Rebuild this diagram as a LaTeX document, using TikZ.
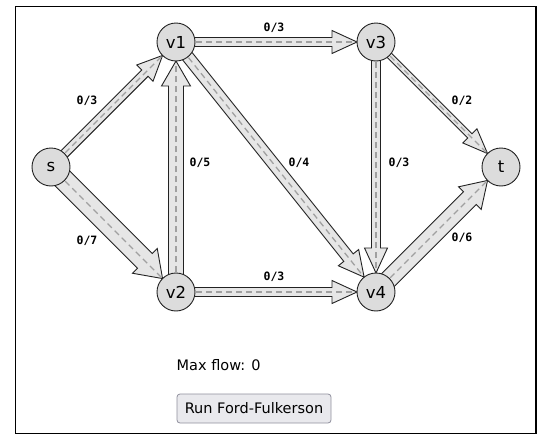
\documentclass[tikz,border=0pt]{standalone}
\usepackage{fontspec}
\setmainfont{DejaVu Sans}
\newfontfamily\monof{DejaVu Sans Mono}
\usetikzlibrary{calc}
\definecolor{arrowfill}{HTML}{E6E6E6}
\definecolor{arrowline}{HTML}{222222}
\definecolor{nodefill}{HTML}{DCDCDC}
\definecolor{dashcol}{HTML}{A0A0A0}
\definecolor{btnfill}{HTML}{E9E9ED}
\definecolor{btnline}{HTML}{8F8F9D}
\tikzset{
  vertex/.style={circle, minimum size=38pt, inner sep=0pt, fill=nodefill, draw=arrowline, line width=0.9pt, font=\fontsize{16.5}{18}\selectfont},
  fatarrow/.style={fill=arrowfill, draw=arrowline, line width=0.9pt, line join=miter},
  dashline/.style={draw=dashcol, line width=1.3pt, dash pattern=on 6pt off 4pt},
  caplabel/.style={font=\monof\bfseries\fontsize{11.5}{12}\selectfont, inner sep=0pt},
}
\newcommand\fatedge[3]{%
  \pgfmathsetmacro\fehw{1.5*#3}%
  \pgfmathsetmacro\fehh{1.5*#3+7}%
  \coordinate (fetip) at ($(#2)!19pt!(#1)$);%
  \coordinate (fehb) at ($(fetip)!25pt!(#1)$);%
  \filldraw[fatarrow] ($(#1)!\fehw pt!90:(#2)$) -- ($(fehb)!\fehw pt!90:(fetip)$)
    -- ($(fehb)!\fehh pt!90:(fetip)$) -- (fetip) -- ($(fehb)!\fehh pt!-90:(fetip)$)
    -- ($(fehb)!\fehw pt!-90:(fetip)$) -- ($(#1)!\fehw pt!-90:(#2)$) -- cycle;%
  \draw[dashline] (#1) -- ($(fetip)!2pt!(#1)$);%
}
\begin{document}
\begin{tikzpicture}[x=1pt,y=-1pt]
\useasboundingbox (0,0) rectangle (542,442);
\draw[line width=1.1pt] (15.5,6.5) rectangle (536,433.5);
% node positions
\coordinate (ps) at (51,167);
\coordinate (pv1) at (176,42);
\coordinate (pv3) at (376,42);
\coordinate (pt) at (501,167);
\coordinate (pv2) at (176,292);
\coordinate (pv4) at (376,292);
% edges
\fatedge{ps}{pv1}{3}
\fatedge{ps}{pv2}{7}
\fatedge{pv1}{pv3}{3}
\fatedge{pv1}{pv4}{4}
\fatedge{pv2}{pv1}{5}
\fatedge{pv2}{pv4}{3}
\fatedge{pv3}{pv4}{3}
\fatedge{pv3}{pt}{2}
\fatedge{pv4}{pt}{6}
% nodes
\node[vertex] (s) at (ps) {s};
\node[vertex] (v1) at (pv1) {v1};
\node[vertex] (v3) at (pv3) {v3};
\node[vertex] (t) at (pt) {t};
\node[vertex] (v2) at (pv2) {v2};
\node[vertex] (v4) at (pv4) {v4};
% labels
\node[caplabel] (l1) at (87,101) {0/3};
\node[caplabel] (l2) at (274,28) {0/3};
\node[caplabel] (l3) at (462,101) {0/2};
\node[caplabel] (l4) at (200,163) {0/5};
\node[caplabel] (l5) at (299,163) {0/4};
\node[caplabel] (l6) at (399,163) {0/3};
\node[caplabel] (l7) at (87,241) {0/7};
\node[caplabel] (l8) at (274,277) {0/3};
\node[caplabel] (l9) at (462,238) {0/6};
% info
\node[anchor=base west, inner sep=0pt, font=\fontsize{14.5}{16}\selectfont] (mf) at (176.5,370.5) {Max flow: 0};
\node[draw=btnline, fill=btnfill, rounded corners=3pt, line width=0.8pt, minimum width=154pt, minimum height=29pt, inner sep=0pt, font=\fontsize{14.5}{16}\selectfont] (btn) at (254,408.5) {Run Ford-Fulkerson};
\end{tikzpicture}
\end{document}
